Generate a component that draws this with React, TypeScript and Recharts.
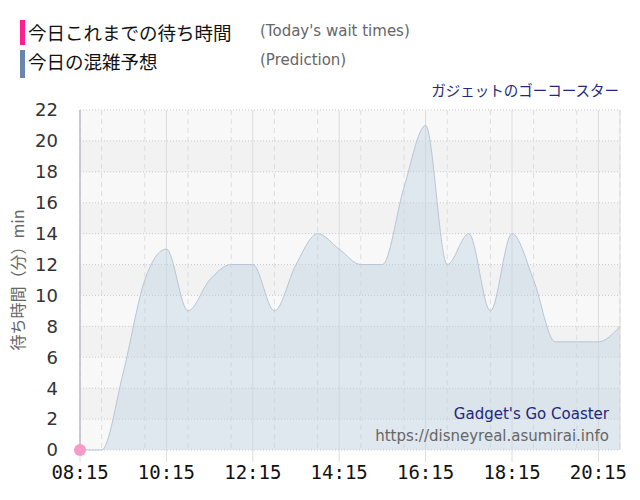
import { Area, AreaChart, CartesianGrid, Line, XAxis, YAxis } from 'recharts'

// minutes from midnight, every 30 min from 08:15 to 20:45
const times = [
  495, 525, 555, 585, 615, 645, 675, 705, 735, 765, 795, 825, 855, 885, 915, 945, 975, 1005,
  1035, 1065, 1095, 1125, 1155, 1185, 1215, 1245,
]
const prediction = [0, 0, 5, 11, 13, 9, 11, 12, 12, 9, 12, 14, 13, 12, 12, 17, 21, 12, 14, 9, 14, 11, 7, 7, 7, 8]
const today: (number | null)[] = [0]
const xTicks = [495, 615, 735, 855, 975, 1095, 1215]
const yTicks = [0, 2, 4, 6, 8, 10, 12, 14, 16, 18, 20, 22]

const chartData = times.map((t, i) => ({
  t,
  prediction: prediction[i],
  today: today[i] ?? null,
}))

function fmtTime(m: number): string {
  const h = Math.floor(m / 60)
  const mm = m % 60
  return `${String(h).padStart(2, '0')}:${String(mm).padStart(2, '0')}`
}

const sans = '"DejaVu Sans", Verdana, sans-serif'
const jp = '"Noto Sans CJK JP", sans-serif'

export default function App() {
  return (
    <div style={{ position: 'absolute', left: 0, top: 0, width: 640, height: 500, background: '#fff' }}>
      <AreaChart
        width={640}
        height={500}
        data={chartData}
        margin={{ top: 110, right: 20, bottom: 0, left: 0 }}
      >
        <XAxis xAxisId="grid" type="number" dataKey="t" domain={[495, 1245]} ticks={times} hide />
        {/* bands + dotted horizontal lines */}
        <CartesianGrid
          vertical={false}
          horizontalFill={['#f8f8f8', '#f2f2f2']}
          stroke="#cacaca"
          strokeDasharray="1 2"
        />
        {/* dashed half-hour lines */}
        <CartesianGrid xAxisId="grid" horizontal={false} stroke="#dddddd" strokeDasharray="5 4" />
        {/* solid lines at labelled ticks */}
        <CartesianGrid horizontal={false} stroke="#dcdcdc" />
        <XAxis
          type="number"
          dataKey="t"
          domain={[495, 1245]}
          ticks={xTicks}
          tickFormatter={fmtTime}
          axisLine={false}
          tickSize={12}
          tickMargin={4}
          tickLine={{ stroke: '#dcdcdc' }}
          height={50}
          tick={{ fill: '#111', fontSize: 19, fontFamily: '"DejaVu Sans Mono", monospace' }}
        />
        <YAxis
          type="number"
          domain={[0, 22]}
          ticks={yTicks}
          width={80}
          axisLine={{ stroke: '#aab' }}
          tickLine={false}
          tickMargin={16}
          tick={{ fill: '#333', fontSize: 18, fontFamily: sans }}
          label={{
            value: '待ち時間（分）min',
            angle: -90,
            position: 'insideLeft',
            offset: 18,
            style: { textAnchor: 'middle', fill: '#666', fontSize: 16, fontFamily: jp },
          }}
        />
        <Area
          type="monotone"
          dataKey="prediction"
          stroke="#b7c6d5"
          strokeWidth={1}
          fill="#bcd0e2"
          fillOpacity={0.42}
          isAnimationActive={false}
          dot={false}
          activeDot={false}
        />
        <Line
          dataKey="today"
          stroke="#ff1f8f"
          connectNulls={false}
          dot={{ r: 6, fill: '#f799c9', stroke: 'none' }}
          isAnimationActive={false}
          activeDot={false}
        />
      </AreaChart>

      {/* legend */}
      <div style={{ position: 'absolute', left: 20, top: 20, width: 5, height: 25, background: '#ff1f8f' }} />
      <div style={{ position: 'absolute', left: 28, top: 19, fontSize: 18.5, fontFamily: jp, color: '#111', lineHeight: '26px', whiteSpace: 'nowrap' }}>
        今日これまでの待ち時間
      </div>
      <div style={{ position: 'absolute', left: 260, top: 21, fontSize: 15, fontFamily: sans, color: '#666', lineHeight: '20px', whiteSpace: 'nowrap' }}>
        (Today's wait times)
      </div>
      <div style={{ position: 'absolute', left: 20, top: 50, width: 5, height: 28, background: '#6a86ad' }} />
      <div style={{ position: 'absolute', left: 28, top: 48, fontSize: 18.5, fontFamily: jp, color: '#111', lineHeight: '26px', whiteSpace: 'nowrap' }}>
        今日の混雑予想
      </div>
      <div style={{ position: 'absolute', left: 260, top: 50, fontSize: 15, fontFamily: sans, color: '#666', lineHeight: '20px', whiteSpace: 'nowrap' }}>
        (Prediction)
      </div>

      <div style={{ position: 'absolute', right: 21, top: 80, fontSize: 14.5, fontFamily: jp, color: '#22287a', lineHeight: '20px', whiteSpace: 'nowrap' }}>
        ガジェットのゴーコースター
      </div>

      {/* watermark inside plot */}
      <div style={{ position: 'absolute', right: 31, top: 404, fontSize: 15, fontFamily: sans, color: '#22287a', lineHeight: '20px', whiteSpace: 'nowrap' }}>
        Gadget's Go Coaster
      </div>
      <div style={{ position: 'absolute', right: 31, top: 426, fontSize: 15, fontFamily: sans, color: '#666', lineHeight: '20px', whiteSpace: 'nowrap' }}>
        https://disneyreal.asumirai.info
      </div>
    </div>
  )
}
